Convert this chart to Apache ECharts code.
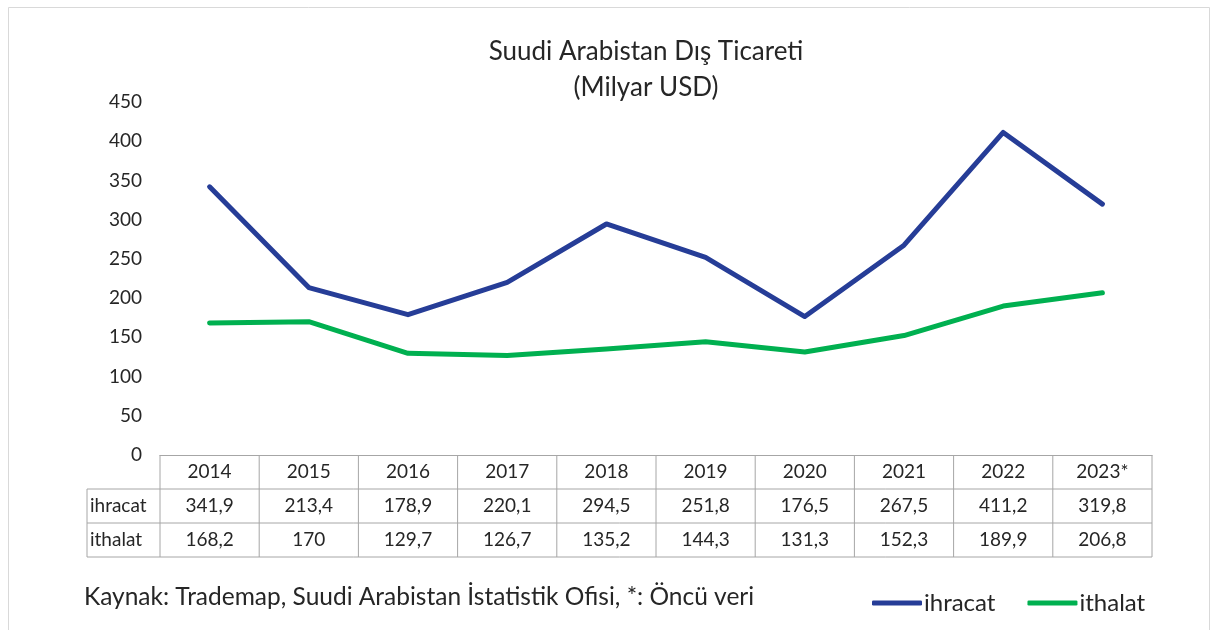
<!DOCTYPE html>
<html>
<head>
<meta charset="utf-8">
<script src="https://cdn.jsdelivr.net/npm/echarts@6/dist/echarts.min.js"></script>
<style>
  html, body { margin: 0; padding: 0; background: #fff; }
  #chart { width: 1219px; height: 630px; }
</style>
</head>
<body>
<div id="chart"></div>
<script>
  // yillar ve degerler (Milyar USD)
  const years = ['2014', '2015', '2016', '2017', '2018', '2019', '2020', '2021', '2022', '2023*'];
  const ihracat = [341.9, 213.4, 178.9, 220.1, 294.5, 251.8, 176.5, 267.5, 411.2, 319.8];
  const ithalat = [168.2, 170, 129.7, 126.7, 135.2, 144.3, 131.3, 152.3, 189.9, 206.8];
  const seriesNames = ['ihracat', 'ithalat'];
  const yMax = 450;
  const yStep = 50;

  const font = 'Lato, "Open Sans", sans-serif';
  const textColor = '#262626';
  const gridLine = '#a6a6a6';

  const chart = echarts.init(document.getElementById('chart'));

  let option = {
    backgroundColor: '#fff',
    animation: false,
    title: [
      {
        text: 'Suudi Arabistan Dış Ticareti\n(Milyar USD)',
        left: 641,
        top: 29,
        textAlign: 'center',
        textStyle: { fontFamily: font, fontSize: 26, fontWeight: 'normal', color: textColor, lineHeight: 36 }
      },
      {
        text: 'Kaynak: Trademap, Suudi Arabistan İstatistik Ofisi, *: Öncü veri',
        left: 79,
        top: 580,
        textStyle: { fontFamily: font, fontSize: 24.5, fontWeight: 'normal', color: textColor }
      }
    ],
    legend: {
      data: seriesNames,
      left: 867,
      top: 586,
      icon: 'roundRect',
      itemWidth: 50,
      itemHeight: 5,
      itemGap: 32,
      textStyle: { fontFamily: font, fontSize: 24, color: textColor, padding: [0, 0, 0, -3] }
    },
    grid: { left: 160, right: 67, top: 102, bottom: 175 },
    xAxis: {
      type: 'category',
      data: years,
      boundaryGap: true,
      axisLine: { show: true, lineStyle: { color: gridLine, width: 1 } },
      axisTick: { show: false },
      axisLabel: { show: false },
      splitLine: { show: false }
    },
    yAxis: {
      type: 'value',
      min: 0,
      max: yMax,
      interval: yStep,
      axisLine: { show: false },
      axisTick: { show: false },
      splitLine: { show: false },
      axisLabel: { fontFamily: font, fontSize: 19, color: textColor, margin: 18 }
    },
    series: [
      {
        name: seriesNames[0],
        type: 'line',
        data: ihracat,
        symbol: 'none',
        lineStyle: { color: '#263d97', width: 5, cap: 'round', join: 'round' },
        itemStyle: { color: '#263d97' }
      },
      {
        name: seriesNames[1],
        type: 'line',
        data: ithalat,
        symbol: 'none',
        lineStyle: { color: '#00b050', width: 5, cap: 'round', join: 'round' },
        itemStyle: { color: '#00b050' }
      }
    ]
  };
  chart.setOption(option);

  // veri tablosu: eksenin kendi olcegiyle konumlanir
  function fmt(v) { return String(v).replace('.', ','); }

  const xa = chart.convertToPixel({ xAxisIndex: 0 }, 0);
  const xb = chart.convertToPixel({ xAxisIndex: 0 }, 1);
  const band = xb - xa;
  const left = xa - band / 2;
  const right = left + band * years.length;
  const y0 = chart.convertToPixel({ yAxisIndex: 0 }, 0);
  const rowH = 34;
  const labelLeft = 87;

  const g = [];
  const ls = { stroke: gridLine, lineWidth: 1 };
  // outer border
  g.push({ type: 'rect', shape: { x: 8.5, y: 7.5, width: 1201, height: 640 }, style: { fill: 'none', stroke: '#d9d9d9', lineWidth: 1 }, silent: true });
  // horizontal lines
  g.push({ type: 'line', shape: { x1: labelLeft, y1: y0 + rowH, x2: right, y2: y0 + rowH }, style: ls });
  g.push({ type: 'line', shape: { x1: labelLeft, y1: y0 + rowH * 2, x2: right, y2: y0 + rowH * 2 }, style: ls });
  g.push({ type: 'line', shape: { x1: labelLeft, y1: y0 + rowH * 3, x2: right, y2: y0 + rowH * 3 }, style: ls });
  // vertical lines
  g.push({ type: 'line', shape: { x1: labelLeft, y1: y0 + rowH, x2: labelLeft, y2: y0 + rowH * 3 }, style: ls });
  for (let i = 0; i <= years.length; i++) {
    const x = left + band * i;
    g.push({ type: 'line', shape: { x1: x, y1: y0, x2: x, y2: y0 + rowH * 3 }, style: ls });
  }
  const ts = (t, x, y, align) => ({
    type: 'text', x: x, y: y,
    style: { text: t, fontFamily: font, fontSize: 19, fill: textColor, align: align || 'center', verticalAlign: 'middle' }
  });
  const rows = [ihracat, ithalat];
  years.forEach((yr, i) => {
    const cx = left + band * (i + 0.5);
    g.push(ts(yr, cx, y0 + rowH * 0.5));
    rows.forEach((r, j) => g.push(ts(fmt(r[i]), cx, y0 + rowH * (j + 1.5))));
  });
  seriesNames.forEach((n, j) => g.push(ts(n, labelLeft + 3, y0 + rowH * (j + 1.5), 'left')));

  chart.setOption({ graphic: g });
</script>
</body>
</html>
